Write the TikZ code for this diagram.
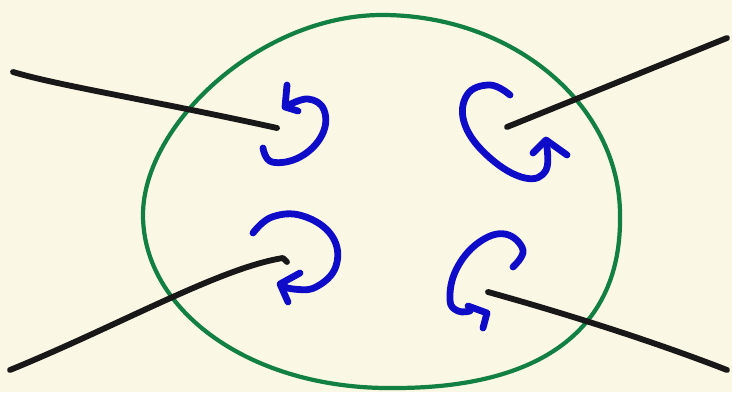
\documentclass[tikz,border=0pt]{standalone}
\definecolor{paper}{RGB}{251,247,229}
\definecolor{rimgreen}{RGB}{18,128,66}
\definecolor{swirlblue}{RGB}{14,12,200}
\definecolor{wireblack}{RGB}{24,24,24}
\begin{document}
\begin{tikzpicture}[x=0.03cm,y=-0.03cm,line cap=round,line join=round,
    rim/.style={draw=rimgreen,line width=3.6pt},
    wire/.style={draw=wireblack,line width=5pt},
    swirl/.style={draw=swirlblue,line width=5.8pt}]
  \fill[paper] (0,0) rectangle (732,392);
  \useasboundingbox (0,0) rectangle (732,392);

  % green rim
  \draw[rim] (382,15) .. controls (513,15) and (620,105) .. (620,215)
    .. controls (622,330) and (540,388) .. (395,388)
    .. controls (250,390) and (143,310) .. (143,215)
    .. controls (143,125) and (260,15) .. (382,15) -- cycle;

  % black wires
  \draw[wire] (13,72) .. controls (60,86) and (150,100) .. (277,128);
  \draw[wire] (727,38) -- (507,127);
  \draw[wire] (10,370) .. controls (120,325) and (220,268) .. (283,258)
    -- (287,262);
  \draw[wire] (488,292) .. controls (560,312) and (650,340) .. (727,370);

  % blue swirls
  \draw[swirl,smooth,tension=0.7] plot coordinates {
    (263,148) (272,162) (300,157) (322,135) (324,110) (308,99) (287,106)};
  \draw[swirl] (287,85) -- (285,107) -- (298,111);

  \draw[swirl,smooth,tension=0.7] plot coordinates {
    (510,95) (490,85) (467,95) (465,125) (490,158) (525,178) (546,170) (546,141)};
  \draw[swirl] (533,153) -- (546,140) -- (567,155);

  \draw[swirl,smooth,tension=0.7] plot coordinates {
    (253,233) (272,217) (303,216) (332,236) (336,266) (316,287) (293,289) (281,285)};
  \draw[swirl] (300,273) -- (280,284) -- (288,302);

  \draw[swirl,smooth,tension=0.7] plot coordinates {
    (513,267) (523,250) (505,234) (478,243) (456,270) (450,300) (458,311) (470,311)};
  \draw[swirl] (468,306) -- (487,313) -- (483,328);
\end{tikzpicture}
\end{document}
